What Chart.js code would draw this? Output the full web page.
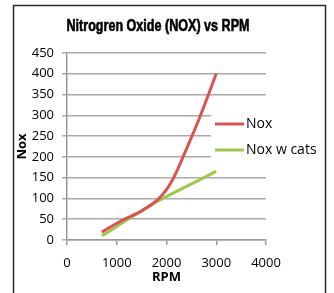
<!DOCTYPE html>
<html>
<head>
<meta charset="utf-8">
<script src="https://cdn.jsdelivr.net/npm/chart.js@4"></script>
<style>
  html, body { margin: 0; padding: 0; background: #fff; }
  canvas { display: block; }
</style>
</head>
<body>
<canvas id="grafico" width="334" height="293"></canvas>
<script>
// dados
const rpm = [700, 1100, 1500, 1850, 2100, 2350, 2650, 3000];
const nox = [19, 47, 70, 100, 140, 205, 290, 400];
const rpmCats = [700, 1800, 3000];
const noxCats = [10, 92, 165];
const xTicks = [0, 1000, 2000, 3000, 4000];
const titulo = 'Nitrogren Oxide (NOX) vs RPM';

const vermelho = '#d9534f';
const verde = '#9dc84b';

// moldura, título e legenda desenhados à mão
const moldura = {
    id: 'moldura',
    beforeDraw(chart) {
        const c = chart.ctx;
        c.save();
        c.fillStyle = '#fff';
        c.fillRect(0, 0, chart.width, chart.height);
        c.restore();
    },
    afterDraw(chart) {
        const c = chart.ctx;
        c.save();
        c.strokeStyle = '#2b2b2b';
        c.lineWidth = 1.5;
        c.strokeRect(13.5, 5.5, 312, 292);

        // título condensado
        c.font = 'bold 16px "Liberation Sans"';
        c.fillStyle = '#000';
        c.textBaseline = 'middle';
        c.textAlign = 'center';
        const w = c.measureText(titulo).width;
        c.save();
        c.translate(158, 26.5);
        c.scale(183 / w, 1);
        c.strokeStyle = '#000';
        c.lineWidth = 0.6;
        c.strokeText(titulo, 0, 0);
        c.fillText(titulo, 0, 0);
        c.restore();

        // legenda
        c.textAlign = 'left';
        c.fillStyle = '#fff';
        c.fillRect(211, 104, 112, 56);
        c.font = '14px "Open Sans"';
        chart.data.datasets.forEach((ds, i) => {
            const y = 124 + i * 26;
            c.strokeStyle = ds.borderColor;
            c.lineWidth = 3;
            c.beginPath();
            c.moveTo(215, y);
            c.lineTo(244, y);
            c.stroke();
            c.fillStyle = '#000';
            c.fillText(ds.label, 246, y);
        });
        c.restore();
    }
};

new Chart(document.getElementById('grafico'), {
    type: 'line',
    data: {
        datasets: [{
            label: 'Nox',
            data: rpm.map((x, i) => ({ x: x, y: nox[i] })),
            borderColor: vermelho,
            borderWidth: 3,
            pointRadius: 0,
            tension: 0.35
        }, {
            label: 'Nox w cats',
            data: rpmCats.map((x, i) => ({ x: x, y: noxCats[i] })),
            borderColor: verde,
            borderWidth: 3,
            pointRadius: 0,
            tension: 0.2
        }]
    },
    options: {
        responsive: false,
        animation: false,
        layout: { padding: { left: 0, right: 68, top: 53, bottom: 0 } },
        plugins: {
            legend: { display: false },
            tooltip: { enabled: false },
            title: { display: false }
        },
        scales: {
            x: {
                type: 'linear',
                min: 0,
                max: 4000,
                afterBuildTicks: s => { s.ticks = xTicks.map(v => ({ value: v })); },
                afterFit: s => { s.height = 53; },
                grid: { display: true, drawOnChartArea: false, tickLength: 5, color: '#999', lineWidth: 1.5 },
                border: { color: '#999', width: 1.5 },
                ticks: {
                    color: '#000', padding: 10, maxRotation: 0,
                    font: { family: '"Open Sans"', size: 13 },
                    callback: v => String(v)
                },
                title: { display: true, text: 'RPM', color: '#000', padding: { top: 0, bottom: 8 }, font: { family: '"Open Sans"', size: 13, weight: 'bold' } }
            },
            y: {
                min: 0,
                max: 450,
                ticks: { stepSize: 50, color: '#000', padding: 8, font: { family: '"Open Sans"', size: 13 } },
                afterFit: s => { s.width = 67; },
                grid: { color: '#aaa', lineWidth: 1.5, tickLength: 5 },
                border: { color: '#999', width: 1.5 },
                title: { display: true, text: 'Nox', color: '#000', padding: { top: 14, bottom: 0 }, font: { family: '"Open Sans"', size: 13, weight: 'bold' } }
            }
        }
    },
    plugins: [moldura]
});
</script>
</body>
</html>
